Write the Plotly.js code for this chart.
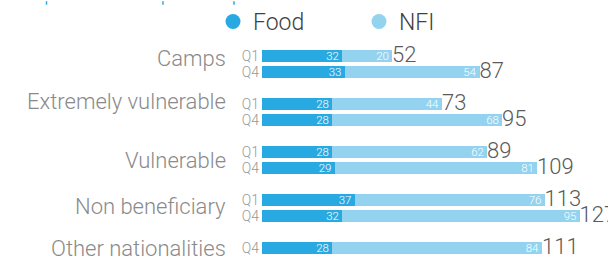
<!DOCTYPE html>
<html>
<head>
<meta charset="utf-8">
<script src="https://cdn.plot.ly/plotly-3.0.1.min.js"></script>
<style>html,body{margin:0;padding:0;background:#fff;overflow:hidden}#chart{width:608px;height:259px}</style>
</head>
<body>
<div id="chart"></div>
<script>
// ---- data ----
var rowGroups = ["Camps","Camps","Extremely vulnerable","Extremely vulnerable","Vulnerable","Vulnerable","Non beneficiary","Non beneficiary","Other nationalities"];
var rowQuarters = ["Q1","Q4","Q1","Q4","Q1","Q4","Q1","Q4","Q4"];
var foodValues = [32,33,28,28,28,29,37,32,28];
var nfiValues = [20,54,44,68,62,81,76,95,84];
var totalValues = [52,87,73,95,89,109,113,127,111];
var seriesNames = ["Food","NFI"];
var groupNames = ["Camps","Extremely vulnerable","Vulnerable","Non beneficiary","Other nationalities"];

// ---- styling ----
var FOOD = "#29a9e1", NFI = "#93d3f0";
var FONT = "Roboto";
var labelOffset = [0.14, -0.14, 0.53, 0.39, 0.0];

// build category rows with spacers between groups
var rowKeys = rowGroups.map(function(g,i){ return g + "|" + rowQuarters[i]; });
var catArray = [];
for (var i = 0; i < rowKeys.length; i++) {
  if (i > 0 && rowGroups[i] !== rowGroups[i-1]) catArray.push("sp" + i);
  catArray.push(rowKeys[i]);
}
var barTotals = foodValues.map(function(v,i){ return v + nfiValues[i]; });

var traces = [
  {type:"bar", orientation:"h", name:seriesNames[0], y:rowKeys, x:foodValues,
   marker:{color:FOOD}, text:foodValues.map(String), textposition:"inside",
   insidetextanchor:"end", constraintext:"none", textangle:0,
   textfont:{family:FONT, size:11.5, color:"#ffffff"}, showlegend:false, hoverinfo:"x"},
  {type:"bar", orientation:"h", name:seriesNames[1], y:rowKeys, x:nfiValues,
   marker:{color:NFI}, text:nfiValues.map(String), textposition:"inside",
   insidetextanchor:"end", constraintext:"none", textangle:0,
   textfont:{family:FONT, size:11.5, color:"#ffffff"}, showlegend:false, hoverinfo:"x"},
  {type:"scatter", mode:"text", y:rowKeys, x:barTotals, text:totalValues.map(String),
   textposition:"middle right", cliponaxis:false,
   textfont:{family:FONT, size:22, color:"#5a5a5a", weight:300}, showlegend:false, hoverinfo:"skip"},
  {type:"scatter", mode:"markers", name:seriesNames[0], x:[null], y:[null],
   marker:{color:FOOD, size:15, symbol:"circle"}},
  {type:"scatter", mode:"markers", name:seriesNames[1], x:[null], y:[null],
   marker:{color:NFI, size:15, symbol:"circle"}}
];

var annotations = groupNames.map(function(g, k){
  var first = catArray.indexOf(rowKeys[rowGroups.indexOf(g)]);
  return {text:g, xref:"paper", x:0, xshift:-34, xanchor:"right",
          yref:"y", y:first + labelOffset[k], yanchor:"middle", showarrow:false,
          font:{family:FONT, size:22, color:"#8a8a8a", weight:300}};
});

var L = 262, W = 608 - L, T = 47, B = 3, H = 259 - T - B;
function px(x){ return (x - L)/W; }
function py(y){ return (259 - B - y)/H; }
var shapes = [46.5, 163, 234].map(function(x){
  return {type:"line", xref:"paper", yref:"paper", x0:px(x), x1:px(x), y0:py(0), y1:py(3.5),
          line:{color:FOOD, width:1.5}};
});

var layout = {
  width:608, height:259,
  margin:{l:L, r:0, t:T, b:B, pad:0},
  paper_bgcolor:"#ffffff", plot_bgcolor:"#ffffff",
  barmode:"stack", bargap:0.25,
  font:{family:FONT, weight:300},
  xaxis:{range:[0,138.4], visible:false, fixedrange:true},
  yaxis:{type:"category", categoryorder:"array", categoryarray:catArray,
         range:[catArray.length - 0.5, -0.5], tickvals:rowKeys, ticktext:rowQuarters,
         showgrid:false, zeroline:false, showline:false, ticks:"", ticklabelstandoff:2,
         tickfont:{family:FONT, size:14, color:"#999999", weight:300}, fixedrange:true},
  showlegend:true,
  legend:{orientation:"h", traceorder:"normal", x:px(213), xanchor:"left", y:py(20), yanchor:"middle",
          font:{family:FONT, size:23, color:"#404040", weight:300},
          bgcolor:"rgba(0,0,0,0)", itemclick:false, entrywidth:101},
  annotations:annotations,
  shapes:shapes
};

Plotly.newPlot("chart", traces, layout, {displayModeBar:false, staticPlot:true});
</script>
</body>
</html>
